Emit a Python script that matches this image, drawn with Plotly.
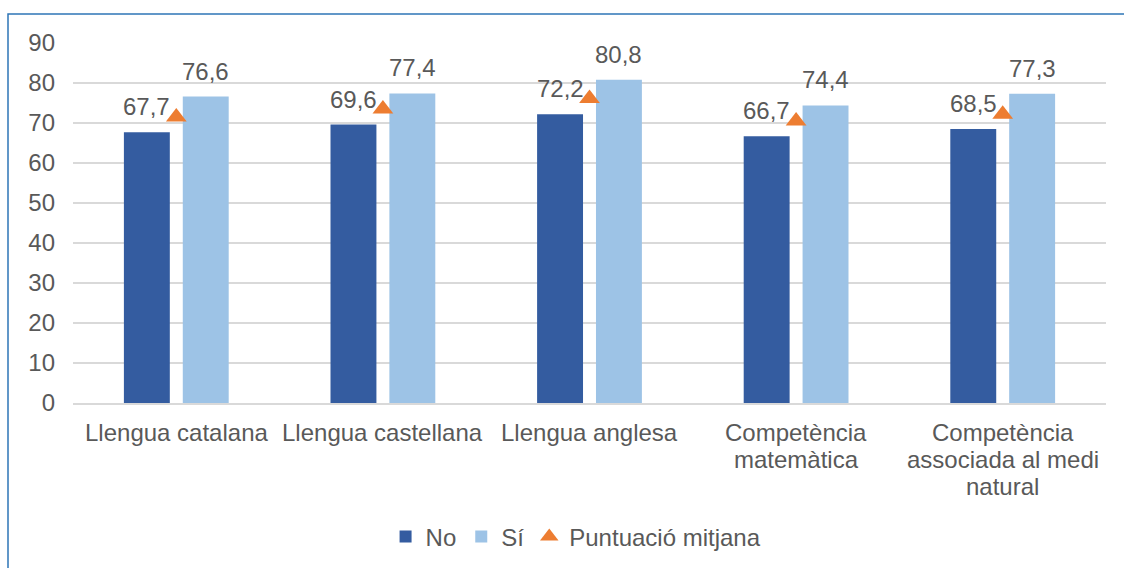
import plotly.graph_objects as go

categories = ["Llengua catalana", "Llengua castellana", "Llengua anglesa",
              "Competència<br>matemàtica", "Competència<br>associada al medi<br>natural"]
no_values = [67.7, 69.6, 72.2, 66.7, 68.5]
si_values = [76.6, 77.4, 80.8, 74.4, 77.3]
mean_values = [71.5, 73.5, 76.1, 70.5, 72.2]
y_ticks = [0, 10, 20, 30, 40, 50, 60, 70, 80, 90]

FONT = "Liberation Sans, Arial, sans-serif"
TXT = "#595959"
FS = 24

fig = go.Figure()
fig.add_trace(go.Bar(name="No", x=categories, y=no_values, marker_color="#345CA0",
                     marker_line_width=0))
fig.add_trace(go.Bar(name="Sí", x=categories, y=si_values, marker_color="#9DC3E6",
                     marker_line_width=0))
fig.add_trace(go.Scatter(name="Puntuació mitjana", x=categories, y=mean_values, mode="markers",
                         marker=dict(symbol="triangle-up", size=18, color="#ED7D31")))

L, R, T, B = 73, 18, 43, 165
W, H = 1124, 568
cat_w = (W - L - R) / len(categories)
bargap = 0.43
bargroupgap = 0.22
slot = cat_w * (1 - bargap) / 2

# data labels
for i, c in enumerate(categories):
    for vals, sh in ((no_values, -slot / 2), (si_values, slot / 2)):
        fig.add_annotation(x=c, y=vals[i], text=f"{vals[i]:.1f}".replace(".", ","),
                           showarrow=False, xshift=sh, yshift=10, yanchor="bottom",
                           font=dict(family=FONT, size=FS, color=TXT))

# category labels (tight line spacing like the original)
for c in categories:
    for k, line in enumerate(c.split("<br>")):
        fig.add_annotation(x=c, y=0, yref="y", text=line, showarrow=False,
                           yanchor="middle", yshift=-29 - 27 * k,
                           font=dict(family=FONT, size=FS, color=TXT))

# outer border
pw, ph = W - L - R, H - T - B
fig.add_shape(type="rect", xref="paper", yref="paper",
              x0=(8 - L) / pw, x1=(W + 5 - L) / pw,
              y0=(H - B - (H + 5)) / ph, y1=(H - B - 14) / ph,
              line=dict(color="#2E75B6", width=1.5), fillcolor="rgba(0,0,0,0)", layer="below")

fig.update_layout(
    width=W, height=H,
    margin=dict(l=L, r=R, t=T, b=B, autoexpand=False),
    paper_bgcolor="white", plot_bgcolor="white",
    barmode="group", bargap=bargap, bargroupgap=bargroupgap,
    font=dict(family=FONT, size=FS, color=TXT),
    showlegend=True,
    legend=dict(orientation="h", x=0.487, xanchor="center", y=(H - B - 537) / ph, yanchor="middle",
                font=dict(family=FONT, size=FS, color=TXT), itemwidth=30, traceorder="normal"),
    xaxis=dict(showgrid=False, showline=True, linecolor="#D9D9D9", linewidth=1.5, ticks="",
               automargin=False, showticklabels=False, fixedrange=True),
    yaxis=dict(range=[0, 90], tickvals=y_ticks, showgrid=True, gridcolor="#D9D9D9", gridwidth=1.5,
               automargin=False, fixedrange=True,
               zeroline=False, showline=False, ticks="", ticklabelstandoff=17,
               tickfont=dict(family=FONT, size=FS, color=TXT)),
)

fig.write_html("out.html", config={"displayModeBar": False},
               post_script="document.body.style.margin='0';document.body.style.overflow='hidden';")
